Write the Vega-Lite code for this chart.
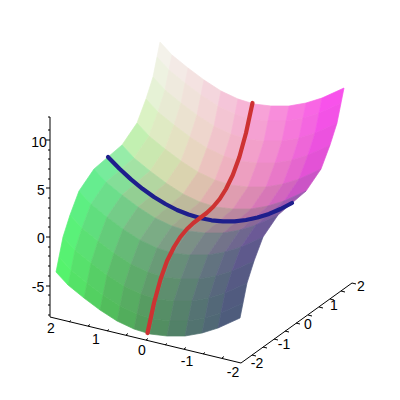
{"$schema":"https://vega.github.io/schema/vega-lite/v6.json","width":400,"height":400,"padding":0,"autosize":"none","background":"white","config":{"view":{"stroke":null},"range":{"ordinal":["rgb(244,242,234)","rgb(244,234,230)","rgb(244,226,225)","rgb(244,214,221)","rgb(245,197,217)","rgb(247,181,214)","rgb(247,162,215)","rgb(248,141,219)","rgb(248,120,223)","rgb(248,102,228)","rgb(248,82,235)","rgb(238,242,225)","rgb(239,234,222)","rgb(240,226,218)","rgb(242,214,214)","rgb(243,197,211)","rgb(244,180,209)","rgb(245,161,210)","rgb(245,141,214)","rgb(245,120,218)","rgb(244,102,224)","rgb(243,82,230)","rgb(230,242,214)","rgb(232,234,211)","rgb(235,226,208)","rgb(238,214,205)","rgb(240,196,203)","rgb(242,179,201)","rgb(242,160,202)","rgb(241,141,206)","rgb(240,120,210)","rgb(238,102,216)","rgb(236,82,223)","rgb(219,242,196)","rgb(223,234,195)","rgb(228,226,194)","rgb(232,214,193)","rgb(235,195,191)","rgb(238,177,191)","rgb(237,159,192)","rgb(235,140,196)","rgb(232,120,200)","rgb(229,102,206)","rgb(227,82,214)","rgb(194,240,177)","rgb(202,232,176)","rgb(211,223,175)","rgb(218,211,175)","rgb(221,193,174)","rgb(224,175,174)","rgb(223,157,176)","rgb(219,138,179)","rgb(215,119,183)","rgb(210,102,190)","rgb(203,84,198)","rgb(150,236,168)","rgb(163,226,164)","rgb(179,214,161)","rgb(189,201,158)","rgb(190,186,156)","rgb(192,171,155)","rgb(190,154,156)","rgb(186,135,159)","rgb(182,116,161)","rgb(170,103,168)","rgb(157,89,176)","rgb(119,235,156)","rgb(132,222,152)","rgb(147,207,147)","rgb(157,192,144)","rgb(158,179,142)","rgb(158,166,141)","rgb(156,150,142)","rgb(152,133,144)","rgb(148,115,146)","rgb(137,104,152)","rgb(125,91,160)","rgb(102,237,143)","rgb(108,222,139)","rgb(116,204,136)","rgb(122,187,133)","rgb(123,172,133)","rgb(124,158,133)","rgb(123,144,134)","rgb(119,130,136)","rgb(115,115,138)","rgb(111,103,143)","rgb(107,89,150)","rgb(93,239,130)","rgb(96,222,126)","rgb(100,204,122)","rgb(102,186,119)","rgb(103,170,119)","rgb(105,155,119)","rgb(103,142,121)","rgb(101,129,124)","rgb(98,115,128)","rgb(96,103,133)","rgb(94,89,140)","rgb(90,241,121)","rgb(91,224,116)","rgb(92,206,111)","rgb(93,187,107)","rgb(94,171,107)","rgb(95,156,107)","rgb(94,142,110)","rgb(92,129,115)","rgb(90,115,120)","rgb(88,103,125)","rgb(86,90,132)","rgb(87,242,114)","rgb(87,225,108)","rgb(86,207,102)","rgb(86,188,98)","rgb(87,172,98)","rgb(87,156,98)","rgb(86,142,102)","rgb(86,129,108)","rgb(85,115,115)","rgb(83,104,120)","rgb(81,91,127)","rgb(85,243,109)","rgb(84,226,103)","rgb(83,208,97)","rgb(82,189,92)","rgb(82,173,92)","rgb(82,156,92)","rgb(82,142,97)","rgb(82,129,104)","rgb(82,115,112)","rgb(80,104,117)","rgb(78,92,124)"]}},"layer":[{"data":{"values":[{"cell":1,"sx":[160,172,169,157],"sy":[42,55,70,57]},{"cell":2,"sx":[172,188,185,169],"sy":[55,68,83,70]},{"cell":3,"sx":[188,204,201,185],"sy":[68,80,95,83]},{"cell":4,"sx":[204,221,218,201],"sy":[80,91,106,95]},{"cell":5,"sx":[221,238,235,218],"sy":[91,99,114,106]},{"cell":6,"sx":[238,254,251,235],"sy":[99,104,119,114]},{"cell":7,"sx":[254,271,268,251],"sy":[104,106,121,119]},{"cell":8,"sx":[271,289,286,268],"sy":[106,106,121,121]},{"cell":9,"sx":[289,306,303,286],"sy":[106,103,118,121]},{"cell":10,"sx":[306,322,319,303],"sy":[103,98,113,118]},{"cell":11,"sx":[322,344,341,319],"sy":[98,88,103,113]},{"cell":12,"sx":[157,169,165,153],"sy":[57,70,90,77]},{"cell":13,"sx":[169,185,181,165],"sy":[70,83,103,90]},{"cell":14,"sx":[185,201,197,181],"sy":[83,95,115,103]},{"cell":15,"sx":[201,218,214,197],"sy":[95,106,126,115]},{"cell":16,"sx":[218,235,231,214],"sy":[106,114,134,126]},{"cell":17,"sx":[235,251,247,231],"sy":[114,119,139,134]},{"cell":18,"sx":[251,268,264,247],"sy":[119,121,141,139]},{"cell":19,"sx":[268,286,282,264],"sy":[121,121,141,141]},{"cell":20,"sx":[286,303,299,282],"sy":[121,118,138,141]},{"cell":21,"sx":[303,319,315,299],"sy":[118,113,133,138]},{"cell":22,"sx":[319,341,337,315],"sy":[113,103,123,133]},{"cell":23,"sx":[153,165,158,146],"sy":[77,90,112,99]},{"cell":24,"sx":[165,181,174,158],"sy":[90,103,125,112]},{"cell":25,"sx":[181,197,190,174],"sy":[103,115,137,125]},{"cell":26,"sx":[197,214,207,190],"sy":[115,126,148,137]},{"cell":27,"sx":[214,231,224,207],"sy":[126,134,156,148]},{"cell":28,"sx":[231,247,240,224],"sy":[134,139,161,156]},{"cell":29,"sx":[247,264,257,240],"sy":[139,141,163,161]},{"cell":30,"sx":[264,282,275,257],"sy":[141,141,163,163]},{"cell":31,"sx":[282,299,292,275],"sy":[141,138,160,163]},{"cell":32,"sx":[299,315,308,292],"sy":[138,133,155,160]},{"cell":33,"sx":[315,337,330,308],"sy":[133,123,145,155]},{"cell":34,"sx":[146,158,149,137],"sy":[99,112,136,123]},{"cell":35,"sx":[158,174,165,149],"sy":[112,125,149,136]},{"cell":36,"sx":[174,190,181,165],"sy":[125,137,161,149]},{"cell":37,"sx":[190,207,198,181],"sy":[137,148,172,161]},{"cell":38,"sx":[207,224,215,198],"sy":[148,156,180,172]},{"cell":39,"sx":[224,240,231,215],"sy":[156,161,185,180]},{"cell":40,"sx":[240,257,248,231],"sy":[161,163,187,185]},{"cell":41,"sx":[257,275,266,248],"sy":[163,163,187,187]},{"cell":42,"sx":[275,292,283,266],"sy":[163,160,184,187]},{"cell":43,"sx":[292,308,299,283],"sy":[160,155,179,184]},{"cell":44,"sx":[308,330,321,299],"sy":[155,145,169,179]},{"cell":45,"sx":[137,149,134,122],"sy":[123,136,158,145]},{"cell":46,"sx":[149,165,150,134],"sy":[136,149,171,158]},{"cell":47,"sx":[165,181,166,150],"sy":[149,161,183,171]},{"cell":48,"sx":[181,198,183,166],"sy":[161,172,194,183]},{"cell":49,"sx":[198,215,200,183],"sy":[172,180,202,194]},{"cell":50,"sx":[215,231,216,200],"sy":[180,185,207,202]},{"cell":51,"sx":[231,248,233,216],"sy":[185,187,209,207]},{"cell":52,"sx":[248,266,251,233],"sy":[187,187,209,209]},{"cell":53,"sx":[266,283,268,251],"sy":[187,184,206,209]},{"cell":54,"sx":[283,299,284,268],"sy":[184,179,201,206]},{"cell":55,"sx":[299,321,306,284],"sy":[179,169,191,201]},{"cell":56,"sx":[122,134,120,108],"sy":[145,158,170,157]},{"cell":57,"sx":[134,150,136,120],"sy":[158,171,183,170]},{"cell":58,"sx":[150,166,152,136],"sy":[171,183,195,183]},{"cell":59,"sx":[166,183,169,152],"sy":[183,194,206,195]},{"cell":60,"sx":[183,200,186,169],"sy":[194,202,214,206]},{"cell":61,"sx":[200,216,202,186],"sy":[202,207,219,214]},{"cell":62,"sx":[216,233,219,202],"sy":[207,209,221,219]},{"cell":63,"sx":[233,251,237,219],"sy":[209,209,221,221]},{"cell":64,"sx":[251,268,254,237],"sy":[209,206,218,221]},{"cell":65,"sx":[268,284,270,254],"sy":[206,201,213,218]},{"cell":66,"sx":[284,306,292,270],"sy":[201,191,203,213]},{"cell":67,"sx":[108,120,106,94],"sy":[157,170,182,169]},{"cell":68,"sx":[120,136,122,106],"sy":[170,183,195,182]},{"cell":69,"sx":[136,152,138,122],"sy":[183,195,207,195]},{"cell":70,"sx":[152,169,155,138],"sy":[195,206,218,207]},{"cell":71,"sx":[169,186,172,155],"sy":[206,214,226,218]},{"cell":72,"sx":[186,202,188,172],"sy":[214,219,231,226]},{"cell":73,"sx":[202,219,205,188],"sy":[219,221,233,231]},{"cell":74,"sx":[219,237,223,205],"sy":[221,221,233,233]},{"cell":75,"sx":[237,254,240,223],"sy":[221,218,230,233]},{"cell":76,"sx":[254,270,256,240],"sy":[218,213,225,230]},{"cell":77,"sx":[270,292,278,256],"sy":[213,203,215,225]},{"cell":78,"sx":[94,106,91,79],"sy":[169,182,204,191]},{"cell":79,"sx":[106,122,107,91],"sy":[182,195,217,204]},{"cell":80,"sx":[122,138,123,107],"sy":[195,207,229,217]},{"cell":81,"sx":[138,155,140,123],"sy":[207,218,240,229]},{"cell":82,"sx":[155,172,157,140],"sy":[218,226,248,240]},{"cell":83,"sx":[172,188,173,157],"sy":[226,231,253,248]},{"cell":84,"sx":[188,205,190,173],"sy":[231,233,255,253]},{"cell":85,"sx":[205,223,208,190],"sy":[233,233,255,255]},{"cell":86,"sx":[223,240,225,208],"sy":[233,230,252,255]},{"cell":87,"sx":[240,256,241,225],"sy":[230,225,247,252]},{"cell":88,"sx":[256,278,263,241],"sy":[225,215,237,247]},{"cell":89,"sx":[79,91,82,70],"sy":[191,204,228,215]},{"cell":90,"sx":[91,107,98,82],"sy":[204,217,241,228]},{"cell":91,"sx":[107,123,114,98],"sy":[217,229,253,241]},{"cell":92,"sx":[123,140,131,114],"sy":[229,240,264,253]},{"cell":93,"sx":[140,157,148,131],"sy":[240,248,272,264]},{"cell":94,"sx":[157,173,164,148],"sy":[248,253,277,272]},{"cell":95,"sx":[173,190,181,164],"sy":[253,255,279,277]},{"cell":96,"sx":[190,208,199,181],"sy":[255,255,279,279]},{"cell":97,"sx":[208,225,216,199],"sy":[255,252,276,279]},{"cell":98,"sx":[225,241,232,216],"sy":[252,247,271,276]},{"cell":99,"sx":[241,263,254,232],"sy":[247,237,261,271]},{"cell":100,"sx":[70,82,75,63],"sy":[215,228,250,237]},{"cell":101,"sx":[82,98,91,75],"sy":[228,241,263,250]},{"cell":102,"sx":[98,114,107,91],"sy":[241,253,275,263]},{"cell":103,"sx":[114,131,124,107],"sy":[253,264,286,275]},{"cell":104,"sx":[131,148,141,124],"sy":[264,272,294,286]},{"cell":105,"sx":[148,164,157,141],"sy":[272,277,299,294]},{"cell":106,"sx":[164,181,174,157],"sy":[277,279,301,299]},{"cell":107,"sx":[181,199,192,174],"sy":[279,279,301,301]},{"cell":108,"sx":[199,216,209,192],"sy":[279,276,298,301]},{"cell":109,"sx":[216,232,225,209],"sy":[276,271,293,298]},{"cell":110,"sx":[232,254,247,225],"sy":[271,261,283,293]},{"cell":111,"sx":[63,75,71,59],"sy":[237,250,270,257]},{"cell":112,"sx":[75,91,87,71],"sy":[250,263,283,270]},{"cell":113,"sx":[91,107,103,87],"sy":[263,275,295,283]},{"cell":114,"sx":[107,124,120,103],"sy":[275,286,306,295]},{"cell":115,"sx":[124,141,137,120],"sy":[286,294,314,306]},{"cell":116,"sx":[141,157,153,137],"sy":[294,299,319,314]},{"cell":117,"sx":[157,174,170,153],"sy":[299,301,321,319]},{"cell":118,"sx":[174,192,188,170],"sy":[301,301,321,321]},{"cell":119,"sx":[192,209,205,188],"sy":[301,298,318,321]},{"cell":120,"sx":[209,225,221,205],"sy":[298,293,313,318]},{"cell":121,"sx":[225,247,243,221],"sy":[293,283,303,313]},{"cell":122,"sx":[59,71,68,56],"sy":[257,270,285,272]},{"cell":123,"sx":[71,87,84,68],"sy":[270,283,298,285]},{"cell":124,"sx":[87,103,100,84],"sy":[283,295,310,298]},{"cell":125,"sx":[103,120,117,100],"sy":[295,306,321,310]},{"cell":126,"sx":[120,137,134,117],"sy":[306,314,329,321]},{"cell":127,"sx":[137,153,150,134],"sy":[314,319,334,329]},{"cell":128,"sx":[153,170,167,150],"sy":[319,321,336,334]},{"cell":129,"sx":[170,188,185,167],"sy":[321,321,336,336]},{"cell":130,"sx":[188,205,202,185],"sy":[321,318,333,336]},{"cell":131,"sx":[205,221,218,202],"sy":[318,313,328,333]},{"cell":132,"sx":[221,243,240,218],"sy":[313,303,318,328]}]},"transform":[{"flatten":["sx","sy"]}],"mark":{"type":"line","interpolate":"linear-closed","filled":true,"strokeWidth":0.7},"encoding":{"x":{"field":"sx","type":"quantitative","scale":{"domain":[0,400],"nice":false,"zero":false},"axis":null},"y":{"field":"sy","type":"quantitative","scale":{"domain":[400,0],"nice":false,"zero":false},"axis":null},"fill":{"field":"cell","type":"ordinal","legend":null},"stroke":{"field":"cell","type":"ordinal","legend":null},"order":{"value":null}}},{"data":{"values":[{"curve":"blue","sx":108,"sy":157},{"curve":"blue","sx":119.5,"sy":168.8},{"curve":"blue","sx":131,"sy":179.4},{"curve":"blue","sx":142.5,"sy":188.8},{"curve":"blue","sx":154,"sy":197},{"curve":"blue","sx":165.5,"sy":204},{"curve":"blue","sx":177,"sy":210},{"curve":"blue","sx":188.5,"sy":214.5},{"curve":"blue","sx":200,"sy":218},{"curve":"blue","sx":211.5,"sy":220.3},{"curve":"blue","sx":223,"sy":221.4},{"curve":"blue","sx":234.5,"sy":221.3},{"curve":"blue","sx":246,"sy":220},{"curve":"blue","sx":257.5,"sy":217.5},{"curve":"blue","sx":269,"sy":213.9},{"curve":"blue","sx":280.5,"sy":209},{"curve":"blue","sx":292,"sy":203},{"curve":"red","sx":252.5,"sy":103},{"curve":"red","sx":246,"sy":133},{"curve":"red","sx":239.4,"sy":157},{"curve":"red","sx":232.8,"sy":175},{"curve":"red","sx":226,"sy":189},{"curve":"red","sx":219.7,"sy":199},{"curve":"red","sx":213,"sy":207},{"curve":"red","sx":206.6,"sy":213},{"curve":"red","sx":200,"sy":218},{"curve":"red","sx":193.4,"sy":223},{"curve":"red","sx":187,"sy":229},{"curve":"red","sx":180.3,"sy":237},{"curve":"red","sx":174,"sy":247},{"curve":"red","sx":167,"sy":261},{"curve":"red","sx":160.6,"sy":279},{"curve":"red","sx":154,"sy":303},{"curve":"red","sx":147.5,"sy":333}]},"mark":{"type":"line","strokeWidth":4.2,"strokeCap":"round","strokeJoin":"round"},"encoding":{"x":{"field":"sx","type":"quantitative","scale":{"domain":[0,400],"nice":false,"zero":false},"axis":null},"y":{"field":"sy","type":"quantitative","scale":{"domain":[400,0],"nice":false,"zero":false},"axis":null},"color":{"field":"curve","type":"nominal","scale":{"domain":["blue","red"],"range":["#1e1e8c","#cd3232"]},"legend":null},"order":{"value":null}}},{"data":{"values":[{"sx":50,"sy":117,"sx2":50,"sy2":317},{"sx":50,"sy":317,"sx2":241,"sy2":363},{"sx":241,"sy":363,"sx2":352,"sy2":283},{"sx":50,"sy":117,"sx2":48,"sy2":117},{"sx":50,"sy":130,"sx2":48,"sy2":130},{"sx":50,"sy":140,"sx2":46,"sy2":140},{"sx":50,"sy":150,"sx2":48,"sy2":150},{"sx":50,"sy":159,"sx2":48,"sy2":159},{"sx":50,"sy":169,"sx2":48,"sy2":169},{"sx":50,"sy":179,"sx2":48,"sy2":179},{"sx":50,"sy":188,"sx2":46,"sy2":188},{"sx":50,"sy":198,"sx2":48,"sy2":198},{"sx":50,"sy":208,"sx2":48,"sy2":208},{"sx":50,"sy":218,"sx2":48,"sy2":218},{"sx":50,"sy":227,"sx2":48,"sy2":227},{"sx":50,"sy":237,"sx2":46,"sy2":237},{"sx":50,"sy":247,"sx2":48,"sy2":247},{"sx":50,"sy":256,"sx2":48,"sy2":256},{"sx":50,"sy":266,"sx2":48,"sy2":266},{"sx":50,"sy":276,"sx2":48,"sy2":276},{"sx":50,"sy":286,"sx2":46,"sy2":286},{"sx":50,"sy":295,"sx2":48,"sy2":295},{"sx":50,"sy":305,"sx2":48,"sy2":305},{"sx":50,"sy":315,"sx2":48,"sy2":315},{"sx":69,"sy":322,"sx2":71,"sy2":320.5},{"sx":88,"sy":326,"sx2":90,"sy2":324.5},{"sx":107,"sy":331,"sx2":109,"sy2":329.5},{"sx":126,"sy":335,"sx2":128,"sy2":333.5},{"sx":146,"sy":340,"sx2":148,"sy2":338.5},{"sx":165,"sy":345,"sx2":167,"sy2":343.5},{"sx":184,"sy":349,"sx2":186,"sy2":347.5},{"sx":203,"sy":354,"sx2":205,"sy2":352.5},{"sx":222,"sy":358,"sx2":224,"sy2":356.5},{"sx":252,"sy":355,"sx2":256,"sy2":356},{"sx":263,"sy":347,"sx2":267,"sy2":348},{"sx":274,"sy":339,"sx2":278,"sy2":340},{"sx":285,"sy":331,"sx2":289,"sy2":332},{"sx":296,"sy":323,"sx2":300,"sy2":324},{"sx":308,"sy":315,"sx2":312,"sy2":316},{"sx":319,"sy":307,"sx2":323,"sy2":308},{"sx":330,"sy":299,"sx2":334,"sy2":300},{"sx":341,"sy":291,"sx2":345,"sy2":292},{"sx":352,"sy":283,"sx2":356,"sy2":284}]},"mark":{"type":"rule","color":"black","strokeWidth":1},"encoding":{"x":{"field":"sx","type":"quantitative","scale":{"domain":[0,400],"nice":false,"zero":false},"axis":null},"y":{"field":"sy","type":"quantitative","scale":{"domain":[400,0],"nice":false,"zero":false},"axis":null},"x2":{"field":"sx2"},"y2":{"field":"sy2"}}},{"data":{"values":[{"sx":39,"sy":143,"label":"10"},{"sx":41,"sy":191,"label":"5"},{"sx":41,"sy":239,"label":"0"},{"sx":38,"sy":288,"label":"-5"},{"sx":51,"sy":329,"label":"2"},{"sx":96,"sy":340,"label":"1"},{"sx":142,"sy":351,"label":"0"},{"sx":187,"sy":362,"label":"-1"},{"sx":233,"sy":373,"label":"-2"},{"sx":257,"sy":364,"label":"-2"},{"sx":284,"sy":345,"label":"-1"},{"sx":308,"sy":325,"label":"0"},{"sx":334,"sy":306,"label":"1"},{"sx":361,"sy":287,"label":"2"}]},"mark":{"type":"text","font":"Liberation Sans","fontSize":14,"color":"black","align":"center","baseline":"middle"},"encoding":{"x":{"field":"sx","type":"quantitative","scale":{"domain":[0,400],"nice":false,"zero":false},"axis":null},"y":{"field":"sy","type":"quantitative","scale":{"domain":[400,0],"nice":false,"zero":false},"axis":null},"text":{"field":"label"}}}]}
